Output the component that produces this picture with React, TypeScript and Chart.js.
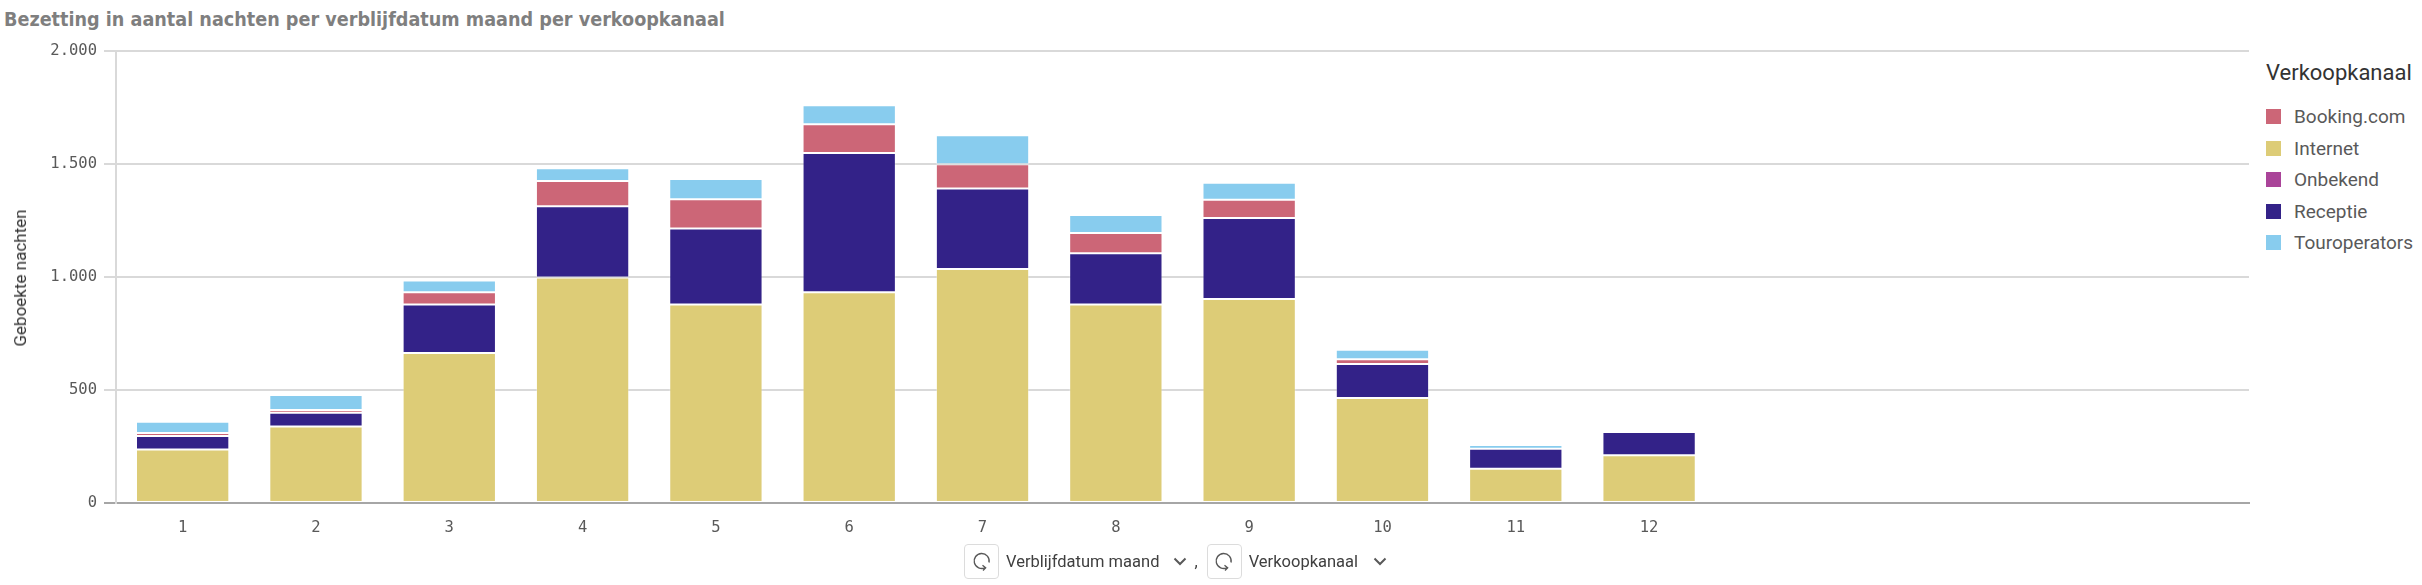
import React, { useEffect, useRef } from "react";
import { Chart, registerables } from "chart.js";

Chart.register(...registerables);

// ---- data ----
const months = ["1", "2", "3", "4", "5", "6", "7", "8", "9", "10", "11", "12"];
const emptySlots = ["", "", "", ""];
const legendNames = ["Booking.com", "Internet", "Onbekend", "Receptie", "Touroperators"];

const internet = [237, 338, 664, 998, 878, 932, 1035, 878, 903, 465, 152, 211];
const onbekend = [0, 0, 0, 0, 0, 0, 0, 0, 0, 0, 0, 0];
const receptie = [60, 61, 214, 315, 337, 617, 357, 227, 358, 150, 88, 103];
const booking = [13, 13, 54, 112, 129, 127, 107, 90, 81, 21, 0, 0];
const touroperators = [50, 66, 53, 56, 90, 84, 128, 79, 75, 42, 17, 2];

const yMin = 0;
const yMax = 2000;
const yStep = 500;

const seriesColors: Record<string, string> = {
  "Booking.com": "#cc6677",
  Internet: "#ddcc77",
  Onbekend: "#aa4499",
  Receptie: "#332288",
  Touroperators: "#88ccee",
};

// stacking order bottom -> top
const stackOrder: [string, number[]][] = [
  ["Internet", internet],
  ["Onbekend", onbekend],
  ["Receptie", receptie],
  ["Booking.com", booking],
  ["Touroperators", touroperators],
];

const fmt = (v: number) => String(Math.round(v)).replace(/\B(?=(\d{3})+(?!\d))/g, ".");

function RefreshIcon() {
  return (
    <svg width="22" height="22" viewBox="0 0 22 22">
      <path d="M 14.2 17.6 A 7.5 7.5 0 1 1 18 12.5" fill="none" stroke="#595959" strokeWidth="1.4" />
      <polyline points="11.5,15.2 14.6,17.7 12,20.4" fill="none" stroke="#595959" strokeWidth="1.4" />
    </svg>
  );
}

function Chevron() {
  return (
    <svg width="14" height="9" viewBox="0 0 14 9">
      <polyline points="1.5,1.5 7,7 12.5,1.5" fill="none" stroke="#595959" strokeWidth="2" />
    </svg>
  );
}

export default function App() {
  const canvasRef = useRef<HTMLCanvasElement | null>(null);

  useEffect(() => {
    document.body.style.margin = "0";
    const canvas = canvasRef.current;
    if (!canvas) return;
    const chart = new Chart(canvas, {
      type: "bar",
      data: {
        labels: [...months, ...emptySlots],
        datasets: stackOrder.map(([name, values]) => ({
          label: name,
          data: values,
          backgroundColor: seriesColors[name],
          borderColor: "rgba(255,255,255,0.3)",
          borderWidth: 1,
          borderSkipped: false,
          categoryPercentage: 1,
          barPercentage: 0.7,
        })),
      },
      options: {
        responsive: false,
        animation: false,
        layout: { padding: { top: 51, right: 11, left: 0, bottom: 0 } },
        plugins: {
          legend: { display: false },
          title: { display: false },
          tooltip: { enabled: false },
        },
        scales: {
          x: {
            stacked: true,
            grid: { display: false, drawTicks: false, tickLength: 0 },
            border: { display: true, color: "#a6a6a6", width: 2 },
            ticks: {
              color: "#595959",
              font: { family: "'DejaVu Sans Mono', monospace", size: 15.5 },
              padding: 16,
              maxRotation: 0,
              autoSkip: false,
            },
            afterFit: (s: any) => {
              s.height = 82;
            },
          },
          y: {
            stacked: true,
            min: yMin,
            max: yMax,
            ticks: {
              stepSize: yStep,
              callback: (v: any) => fmt(Number(v)),
              color: "#595959",
              font: { family: "'DejaVu Sans Mono', monospace", size: 15.5 },
              padding: 7,
            },
            grid: {
              color: (ctx: any) => (ctx.tick && ctx.tick.value === 0 ? "#a6a6a6" : "#d9d9d9"),
              lineWidth: 2,
              tickLength: 12,
            },
            border: { display: true, color: "#d9d9d9", width: 2 },
            afterFit: (s: any) => {
              s.width = 116;
            },
          },
        },
      },
    });
    return () => chart.destroy();
  }, []);

  const legendRows = legendNames.map((name, i) => (
    <div
      key={name}
      style={{
        position: "absolute",
        left: 2266,
        top: 108 + i * 31.5,
        height: 17,
        display: "flex",
        alignItems: "center",
      }}
    >
      <div style={{ width: 15, height: 15, background: seriesColors[name], flex: "none" }} />
      <div
        style={{
          marginLeft: 13,
          fontFamily: "Roboto, sans-serif",
          fontSize: 19,
          color: "#595959",
          whiteSpace: "nowrap",
          lineHeight: "17px",
        }}
      >
        {name}
      </div>
    </div>
  ));

  return (
    <div
      style={{
        position: "relative",
        width: 2422,
        height: 585,
        overflow: "hidden",
        background: "#ffffff",
        fontFamily: "Roboto, sans-serif",
      }}
    >
      <div
        style={{
          position: "absolute",
          left: 4,
          top: 7,
          fontFamily: "'DejaVu Sans Condensed', 'DejaVu Sans', sans-serif",
          fontStretch: "condensed",
          fontWeight: 700,
          fontSize: 19.6,
          color: "#7f7f7f",
          whiteSpace: "nowrap",
          lineHeight: "26px",
        }}
      >
        Bezetting in aantal nachten per verblijfdatum maand per verkoopkanaal
      </div>

      <canvas
        ref={canvasRef}
        width={2260}
        height={585}
        style={{ position: "absolute", left: 0, top: 0, width: 2260, height: 585 }}
      />

      <div
        style={{
          position: "absolute",
          left: 20,
          top: 278,
          transform: "translate(-50%, -50%) rotate(-90deg)",
          fontFamily: "Roboto, sans-serif",
          fontSize: 17,
          color: "#333333",
          whiteSpace: "nowrap",
          lineHeight: "20px",
        }}
      >
        Geboekte nachten
      </div>

      <div
        style={{
          position: "absolute",
          left: 2266,
          top: 61,
          fontFamily: "Roboto, sans-serif",
          fontSize: 22,
          color: "#333333",
          whiteSpace: "nowrap",
          lineHeight: "24px",
        }}
      >
        Verkoopkanaal
      </div>
      {legendRows}

      <div
        style={{
          position: "absolute",
          left: 964,
          top: 543,
          height: 36,
          display: "flex",
          alignItems: "center",
          fontFamily: "Roboto, sans-serif",
          fontSize: 16.5,
          color: "#404040",
          whiteSpace: "nowrap",
        }}
      >
        <div
          style={{
            width: 33,
            height: 33,
            border: "1px solid #dcdcdc",
            borderRadius: 4,
            display: "flex",
            alignItems: "center",
            justifyContent: "center",
          }}
        >
          <RefreshIcon />
        </div>
        <span style={{ marginLeft: 7 }}>Verblijfdatum maand</span>
        <span style={{ marginLeft: 14, display: "flex" }}>
          <Chevron />
        </span>
        <span style={{ marginLeft: 7 }}>,</span>
        <div
          style={{
            marginLeft: 9,
            width: 33,
            height: 33,
            border: "1px solid #dcdcdc",
            borderRadius: 4,
            display: "flex",
            alignItems: "center",
            justifyContent: "center",
          }}
        >
          <RefreshIcon />
        </div>
        <span style={{ marginLeft: 7 }}>Verkoopkanaal</span>
        <span style={{ marginLeft: 15, display: "flex" }}>
          <Chevron />
        </span>
      </div>
    </div>
  );
}
